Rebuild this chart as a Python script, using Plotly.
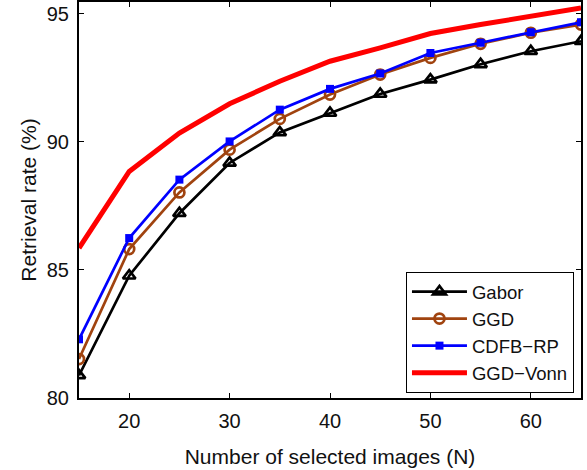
import plotly.graph_objects as go

N = [15, 20, 25, 30, 35, 40, 45, 50, 55, 60, 65]
gabor = [80.88, 84.77, 87.21, 89.17, 90.36, 91.12, 91.86, 92.42, 93.02, 93.53, 93.92]
ggd = [81.52, 85.81, 88.02, 89.69, 90.89, 91.84, 92.62, 93.27, 93.82, 94.25, 94.57]
cdfb = [82.29, 86.24, 88.52, 90.01, 91.25, 92.06, 92.66, 93.46, 93.86, 94.27, 94.66]
vonn = [85.85, 88.84, 90.34, 91.48, 92.36, 93.14, 93.66, 94.22, 94.57, 94.9, 95.22]

FONT = "Liberation Sans, Arial, sans-serif"
TXT = "#111111"

fig = go.Figure()
fig.add_trace(go.Scatter(x=N, y=gabor, name="Gabor", mode="lines+markers",
                         line=dict(color="black", width=2.7),
                         marker=dict(symbol="triangle-up-open", size=11, color="black",
                                     line=dict(width=2.7, color="black"))))
fig.add_trace(go.Scatter(x=N, y=ggd, name="GGD", mode="lines+markers",
                         line=dict(color="#A0430F", width=2.7),
                         marker=dict(symbol="circle-open", size=10, color="#A0430F",
                                     line=dict(width=2.7, color="#A0430F"))))
fig.add_trace(go.Scatter(x=N, y=cdfb, name="CDFB\u2212RP", mode="lines+markers",
                         line=dict(color="#0000FF", width=2.7),
                         marker=dict(symbol="square", size=8, color="#0000FF")))
fig.add_trace(go.Scatter(x=N, y=vonn, name="GGD\u2212Vonn", mode="lines",
                         line=dict(color="#FF0000", width=5)))

axis_common = dict(showline=True, linecolor="black", linewidth=2, mirror="ticks",
                   ticks="inside", ticklen=5, tickwidth=1, tickcolor="black",
                   showgrid=False, zeroline=False, automargin=False,
                   ticklabelstandoff=4,
                   tickfont=dict(family=FONT, size=20, color=TXT))

fig.update_layout(
    width=587, height=470,
    margin=dict(l=79, r=6, t=2, b=72),
    paper_bgcolor="white", plot_bgcolor="white",
    font=dict(family=FONT, color=TXT),
    xaxis=dict(range=[15, 65], tickvals=[20, 30, 40, 50, 60],
               title=dict(text="Number of selected images (N)", font=dict(family=FONT, size=21, color=TXT), standoff=18),
               **axis_common),
    yaxis=dict(range=[80, 95.45], tickvals=[80, 85, 90, 95],
               title=dict(text="Retrieval rate (%)", font=dict(family=FONT, size=21, color=TXT), standoff=4),
               **axis_common),
    legend=dict(x=0.986, y=0.0126, xanchor="right", yanchor="bottom",
                bgcolor="white", bordercolor="black", borderwidth=1,
                font=dict(family=FONT, size=18.5, color=TXT),
                tracegroupgap=0, itemwidth=55),
    showlegend=True,
)

fig.write_html("out.html", config={"displayModeBar": False},
               post_script="document.body.style.margin='0';document.body.style.padding='0';")
